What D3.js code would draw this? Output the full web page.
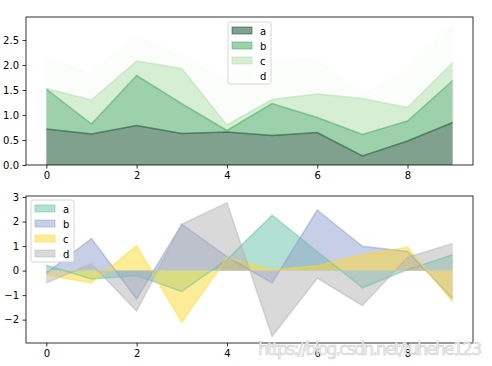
<!DOCTYPE html>
<html>
<head>
<meta charset="utf-8">
<script src="https://cdn.jsdelivr.net/npm/d3@7"></script>
<style>
  body { margin: 0; background: #fff; }
  text { font-family: "DejaVu Sans", sans-serif; }
</style>
</head>
<body>
<div id="chart"></div>
<script>
// x positions shared by both plots
const xs = [0, 1, 2, 3, 4, 5, 6, 7, 8, 9]
const series = ['a', 'b', 'c', 'd']

// top plot: stacked area (values per column, not cumulative)
const topA = [0.72, 0.62, 0.79, 0.63, 0.66, 0.59, 0.65, 0.18, 0.48, 0.85]
const topB = [0.80, 0.20, 1.00, 0.60, 0.03, 0.64, 0.30, 0.43, 0.40, 0.84]
const topC = [0.01, 0.48, 0.29, 0.70, 0.11, 0.08, 0.47, 0.72, 0.27, 0.36]
const topD = [0.62, 0.53, 0.50, 0.24, 0.90, 0.76, 0.69, 0.07, 0.76, 0.77]

// bottom plot: unstacked area
const botA = [0.22, -0.34, -0.20, -0.85, 0.45, 2.26, 0.78, -0.70, 0.04, 0.65]
const botB = [-0.10, 1.31, -1.15, 1.89, 0.57, -0.50, 2.47, 0.99, 0.78, -1.15]
const botC = [-0.18, -0.50, 1.01, -2.10, 0.52, 0.04, 0.20, 0.65, 0.95, -1.28]
const botD = [-0.50, 0.27, -1.65, 1.89, 2.77, -2.68, -0.31, -1.42, 0.54, 1.11]

const topTicks = [0, 0.5, 1.0, 1.5, 2.0, 2.5]
const botTicks = [-2, -1, 0, 1, 2, 3]
const xTicks = [0, 2, 4, 6, 8]

const topColors = ['#00441b', '#3ca358', '#aedea7', '#f7fcf5']
const botColors = ['#66c2a5', '#8da0cb', '#ffd92f', '#b3b3b3']

const width = 492
const height = 366

const svg = d3.select('#chart').append('svg')
    .attr('width', width)
    .attr('height', height)

const x = d3.scaleLinear().domain([-0.45, 9.45]).range([26, 473])

function withMargin(lo, hi) {
    const r = hi - lo
    return [lo - 0.05 * r, hi + 0.05 * r]
}

function drawAxes(g, y, ticks, fmt, top, bottom) {
    g.append('g')
        .attr('transform', `translate(0,${bottom})`)
        .call(d3.axisBottom(x).tickValues(xTicks).tickSize(3.5).tickPadding(3.5).tickFormat(d3.format('d')))
    g.append('g')
        .attr('transform', `translate(${x.range()[0]},0)`)
        .call(d3.axisLeft(y).tickValues(ticks).tickSize(3.5).tickPadding(3.5).tickFormat(fmt))
    g.selectAll('.domain').remove()
    g.selectAll('.tick text').attr('font-size', 10).attr('font-family', 'DejaVu Sans').attr('fill', '#000')
    g.selectAll('.tick line').attr('stroke', '#000').attr('stroke-width', 0.8)
    g.append('rect')
        .attr('x', x.range()[0]).attr('y', top)
        .attr('width', x.range()[1] - x.range()[0]).attr('height', bottom - top)
        .attr('fill', 'none').attr('stroke', '#000').attr('stroke-width', 0.8)
}

function drawLegend(g, colors, lx, ly, opacity) {
    const lg = g.append('g').attr('transform', `translate(${lx},${ly})`)
    lg.append('rect')
        .attr('width', 43).attr('height', 62).attr('rx', 2)
        .attr('fill', '#fff').attr('fill-opacity', 0.8)
        .attr('stroke', '#ccc').attr('stroke-width', 0.8)
    series.forEach((s, i) => {
        lg.append('rect')
            .attr('x', 4).attr('y', 5 + i * 15)
            .attr('width', 20).attr('height', 7)
            .attr('fill', colors[i]).attr('fill-opacity', opacity)
            .attr('stroke', colors[i]).attr('stroke-opacity', opacity).attr('stroke-width', 1)
        lg.append('text')
            .attr('x', 32).attr('y', 12.5 + i * 15)
            .attr('font-size', 10).text(s)
    })
}

// ---- top: stacked area ----
const topData = xs.map((d, i) => ({ x: d, a: topA[i], b: topB[i], c: topC[i], d: topD[i] }))
const stacked = d3.stack().keys(series)(topData)
const topMax = d3.max(stacked[stacked.length - 1], d => d[1])
const yTop = d3.scaleLinear().domain([0, topMax * 1.05]).range([165, 17])

const gTop = svg.append('g')
const areaTop = d3.area().x((d, i) => x(xs[i])).y0(d => yTop(d[0])).y1(d => yTop(d[1]))
const lineTop = d3.line().x((d, i) => x(xs[i])).y(d => yTop(d[1]))

gTop.selectAll('.fill').data(stacked).join('path')
    .attr('d', areaTop)
    .attr('fill', (d, i) => topColors[i]).attr('fill-opacity', 0.5)
gTop.selectAll('.ln').data(stacked).join('path')
    .attr('d', lineTop)
    .attr('fill', 'none')
    .attr('stroke', (d, i) => topColors[i]).attr('stroke-opacity', 0.5).attr('stroke-width', 1.5)

drawAxes(gTop, yTop, topTicks, d3.format('.1f'), 17, 165)
drawLegend(gTop, topColors, 228, 22, 0.5)

// ---- bottom: unstacked area ----
const botSeries = [botA, botB, botC, botD]
const allBot = botSeries.flat().concat([0])
const yBot = d3.scaleLinear().domain(withMargin(d3.min(allBot), d3.max(allBot))).range([343, 196])

const gBot = svg.append('g')
const areaBot = d3.area().x((d, i) => x(xs[i])).y0(yBot(0)).y1(d => yBot(d))
const lineBot = d3.line().x((d, i) => x(xs[i])).y(d => yBot(d))

gBot.selectAll('.fill').data(botSeries).join('path')
    .attr('d', areaBot)
    .attr('fill', (d, i) => botColors[i]).attr('fill-opacity', 0.5)
gBot.selectAll('.ln').data(botSeries).join('path')
    .attr('d', lineBot)
    .attr('fill', 'none')
    .attr('stroke', (d, i) => botColors[i]).attr('stroke-opacity', 0.5).attr('stroke-width', 1.5)

drawAxes(gBot, yBot, botTicks, d3.format('d'), 196, 343)
drawLegend(gBot, botColors, 31, 200, 0.5)

// watermark
svg.append('text')
    .attr('x', 258).attr('y', 355)
    .attr('font-family', 'Liberation Sans, Arial, sans-serif')
    .attr('font-size', 17)
    .attr('textLength', 224)
    .attr('fill', '#f2f2f2').attr('stroke', '#c8c8c8').attr('stroke-width', 0.5)
    .text('https://blog.csdn.net/tuhehe123')
</script>
</body>
</html>
